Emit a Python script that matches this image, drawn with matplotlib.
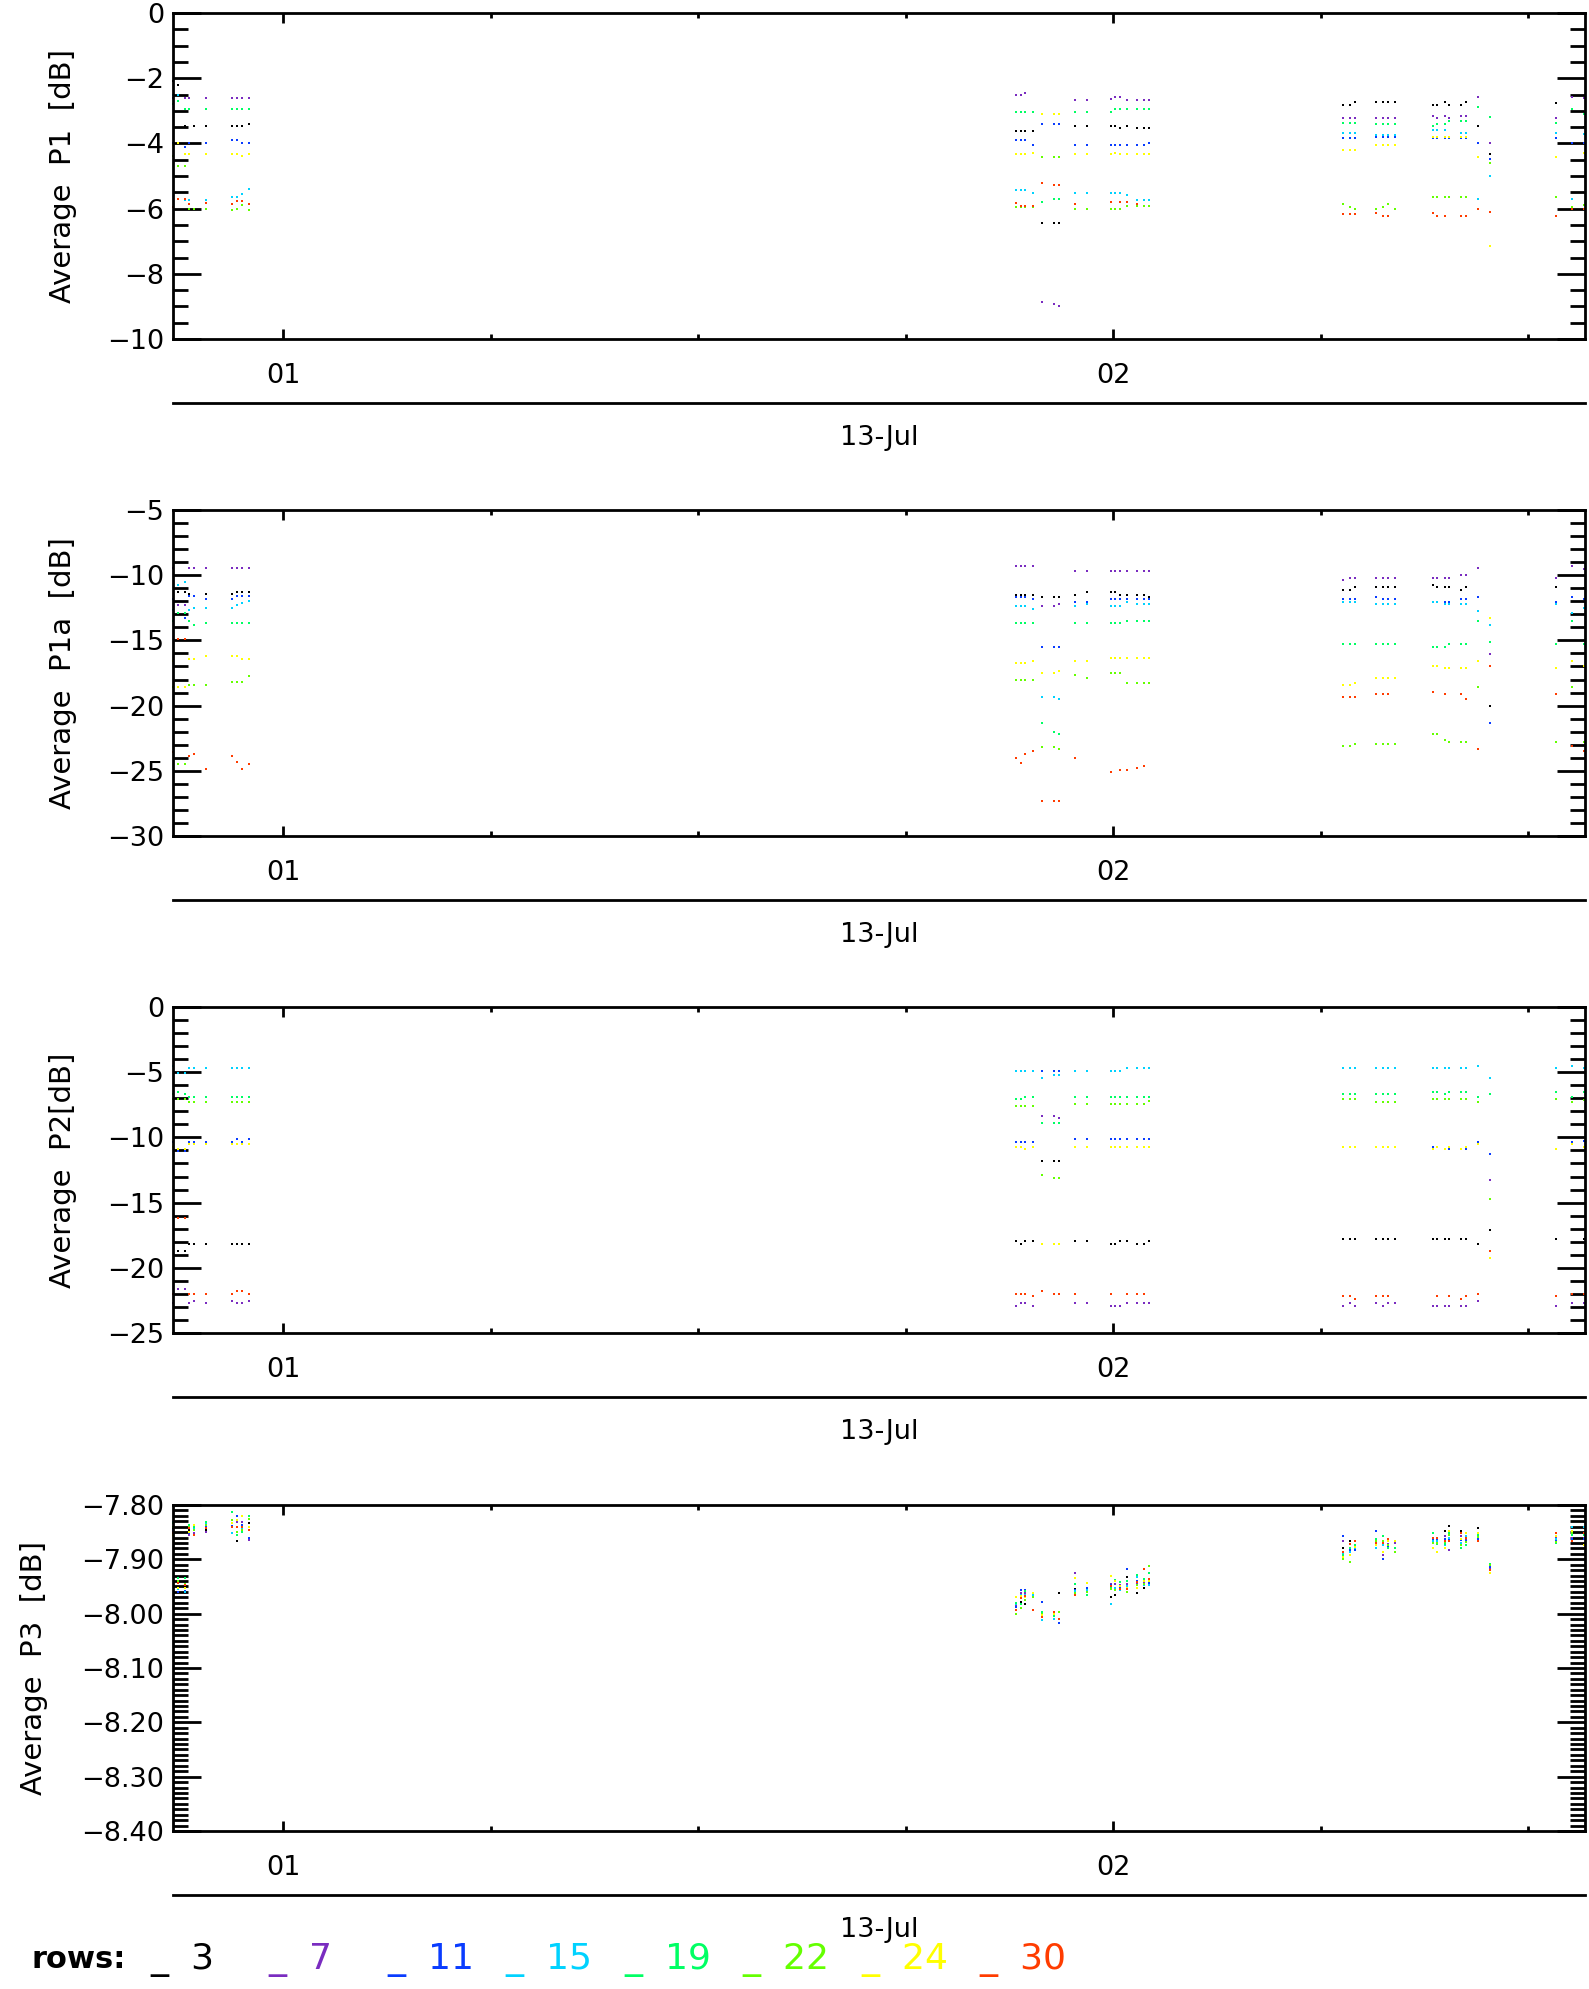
import numpy as np
import matplotlib
matplotlib.use("Agg")
import matplotlib.pyplot as plt
from matplotlib.ticker import MultipleLocator, FixedLocator, FuncFormatter

N = None

# time of each sample, minutes after 00:00 on 13-Jul
T_MIN = [52.03, 52.37, 52.88, 53.22, 53.58, 54.43, 56.29, 56.65, 57.01, 57.51,
         112.97, 113.30, 113.64, 114.17, 114.85, 115.69, 116.05, 117.25, 118.10,
         119.81, 120.15, 120.51, 121.01, 121.69, 122.22, 122.58,
         136.58, 137.08, 137.44, 138.99, 139.50, 139.86, 140.36, 143.08, 143.42,
         143.95, 144.29, 145.13, 145.47, 146.34, 147.20, 152.00, 153.18, 154.05]

ROWS = [3, 7, 11, 15, 19, 22, 24, 30]
ROW_COLORS = ["#000000", "#7a2cc0", "#0a3cff", "#00d2ff", "#00ff64", "#64ff00", "#ffff00", "#ff3c00"]

# ---------------- Average P1 [dB] ----------------
P1_R3 = [-2.10, -2.20, -3.47, N, -3.47, -3.47, -3.47, -3.47, -3.47, -3.40,
         -3.61, -3.61, -3.61, -3.61, -6.45, -6.45, -6.45, -3.47, -3.47, -3.47, -3.47, -3.54, -3.47, -3.54, -3.54, -3.54,
         -2.81, -2.81, -2.72, -2.74, -2.74, -2.74, -2.74, -2.81, -2.81, -2.72, -2.81, -2.81, -2.72, -3.47, -4.34, -2.76, N, -3.50]
P1_R7 = [-2.60, N, -2.60, -2.60, N, -2.60, -2.60, -2.60, -2.60, -2.60,
         -2.52, -2.52, -2.45, N, -8.85, -8.93, -8.98, -2.67, -2.67, -2.65, -2.59, -2.59, -2.67, -2.67, -2.67, -2.67,
         -3.23, -3.23, -3.23, -3.23, -3.23, -3.23, -3.23, -3.16, -3.23, -3.16, -3.23, -3.16, -3.16, -2.59, -3.98, -3.23, -2.59, -2.60]
P1_R11 = [-3.98, -3.98, -4.10, -3.98, N, -3.98, -3.90, -3.90, -3.98, -3.98,
          -3.90, -3.90, -3.90, -4.05, -3.41, -3.41, -3.41, -4.05, -4.05, -4.05, -4.05, -4.05, -4.05, -4.05, -4.05, -3.98,
          -3.83, -3.83, -3.83, -3.80, -3.80, -3.80, -3.80, -3.83, -3.83, -3.83, -3.83, -3.83, -3.83, -3.98, -4.49, -3.83, -3.98, -4.00]
P1_R15 = [-2.50, -2.50, -5.75, -5.75, N, -5.75, -5.65, -5.65, -5.55, -5.40,
          -5.43, -5.43, -5.43, -5.51, N, N, N, -5.51, -5.51, -5.51, -5.51, -5.51, -5.58, -5.73, -5.73, -5.73,
          -3.67, -3.67, -3.67, -3.74, -3.74, -3.74, -3.74, -3.59, -3.59, -3.59, N, -3.67, -3.67, -5.71, -4.99, -3.67, -5.71, -3.70]
P1_R19 = [-2.80, -2.70, -2.96, -2.96, N, -2.96, -2.96, -2.96, -2.96, -2.96,
          -3.03, -3.03, -3.03, -3.03, -5.79, -5.71, -5.71, -3.03, -3.03, -3.03, -2.96, -2.96, -2.96, -2.96, -2.96, -2.96,
          -3.37, -3.37, -3.37, -3.39, -3.39, -3.39, -3.39, -3.47, -3.39, -3.39, -3.31, -3.31, -3.31, -2.88, -3.18, -3.37, -2.96, -3.10]
P1_R22 = [-4.40, -4.70, -4.70, -6.00, -6.00, -6.00, -6.04, -6.00, -5.90, -6.04,
          -5.94, -5.94, -5.94, -5.94, -4.41, -4.41, -4.41, -6.02, -6.02, -6.02, -6.02, -6.02, -5.92, -5.92, -5.92, -5.92,
          -5.86, -5.94, -6.02, -6.02, -5.94, -5.86, -6.02, -5.63, -5.63, -5.63, -5.63, -5.63, -5.63, N, -4.61, -5.63, -5.94, -5.90]
P1_R24 = [-4.05, -4.00, -4.34, -4.34, N, -4.34, -4.34, -4.34, -4.40, -4.34,
          -4.34, -4.34, -4.34, -4.29, -3.11, -3.11, -3.11, -4.34, -4.34, -4.34, -4.29, -4.34, -4.34, -4.34, -4.34, -4.34,
          -4.20, -4.20, -4.20, -4.05, -4.05, -4.05, -4.05, -3.80, -3.80, -3.80, -3.80, -3.80, -3.80, -4.41, -7.16, -4.41, N, -4.30]
P1_R30 = [-5.95, -5.70, -5.70, -5.85, N, -5.82, -5.85, -5.78, -5.78, -5.85,
          -5.82, -5.92, -5.92, -5.92, -5.20, -5.29, -5.29, -5.86, N, -5.79, N, -5.79, -5.79, -5.86, N, N,
          -6.16, -6.16, -6.16, -6.14, -6.22, -6.22, N, -6.14, -6.22, -6.22, N, -6.22, -6.22, -6.01, -6.09, -6.22, -6.00, -6.00]

# ---------------- Average P1a [dB] ----------------
P1A_R3 = [N, -11.26, -11.26, -11.45, N, -11.45, -11.45, -11.26, -11.26, -11.26,
          -11.49, -11.49, -11.49, -11.49, -11.67, -11.67, -11.67, -11.49, -11.28, -11.28, -11.28, -11.49, -11.49, -11.49, -11.49, -11.67,
          -11.10, -11.10, -10.92, -10.92, -10.92, -10.92, -10.92, -10.74, -10.92, -10.92, -10.92, -11.10, -10.92, N, -20.05, -10.92, N, -11.00]
P1A_R7 = [-9.46, -12.30, -12.30, -9.46, -9.46, -9.46, -9.46, -9.46, -9.46, -9.46,
          -9.28, -9.28, -9.28, -9.28, -12.38, -12.38, -12.20, -9.67, -9.67, -9.67, -9.67, -9.67, -9.67, -9.67, -9.67, -9.67,
          -10.39, -10.18, -10.18, -10.18, -10.18, -10.18, -10.18, -10.18, -10.18, -10.18, -10.18, -10.00, -10.00, -9.46, -16.03, -10.18, -9.28, -9.50]
P1A_R11 = [-11.80, N, -13.25, -11.60, -11.60, -11.80, -11.80, -11.60, -11.60, -11.60,
           -11.67, -11.67, -11.67, -11.85, -15.49, -15.49, -15.49, -12.02, -12.02, -11.85, -11.85, -11.85, -11.85, -11.85, -11.85, -11.85,
           -11.85, -11.85, -11.85, -11.67, -11.85, -11.85, -11.85, N, N, -12.02, -12.02, -11.85, -11.85, -11.67, -21.33, -12.02, -11.67, -11.80]
P1A_R15 = [-12.70, -10.75, -10.54, -12.70, -12.55, -12.55, -12.55, -12.30, -12.15, -11.98,
           -12.38, -12.38, -12.38, -12.56, -19.31, -19.31, -19.49, -12.38, -12.20, -12.38, -12.38, -12.38, -12.02, -12.20, -12.20, -12.20,
           -12.02, -12.02, -12.02, -12.20, -12.20, -12.20, -12.20, -12.02, -12.02, -12.20, -12.20, -12.20, -12.20, -12.74, -13.85, -12.20, -12.92, -12.50]
P1A_R19 = [-13.50, -12.90, -12.90, -13.50, -13.84, -13.68, -13.68, -13.68, -13.68, -13.68,
           -13.67, -13.67, -13.67, -13.67, -21.31, -22.03, -22.20, -13.67, -13.67, -13.67, -13.67, -13.67, -13.49, -13.49, -13.49, -13.49,
           -15.31, -15.31, -15.31, -15.31, -15.31, -15.31, -15.31, -15.49, -15.49, -15.49, -15.31, -15.31, -15.31, -13.49, -15.13, -15.31, -13.49, -15.30]
P1A_R22 = [-18.58, -24.50, -24.50, -18.40, -18.40, -18.40, -18.20, -18.20, -18.20, -17.70,
           -18.03, -18.03, -18.03, -18.03, -23.15, -23.15, -23.33, -17.67, -17.85, -17.49, -17.49, -17.49, -18.23, -18.23, -18.23, -18.23,
           -23.12, -23.12, -22.95, -22.95, -22.95, -22.95, -22.95, -22.20, -22.20, -22.60, -22.77, -22.77, -22.77, -18.59, N, -22.77, -18.59, -22.80]
P1A_R24 = [-16.60, -18.60, -18.60, -16.40, -16.40, -16.20, -16.20, -16.20, -16.40, -16.40,
           -16.77, -16.77, -16.77, -16.59, -17.49, -17.49, -17.31, -16.59, -16.59, -16.38, -16.38, -16.38, -16.38, -16.38, -16.38, -16.38,
           -18.41, -18.41, -18.23, -17.85, -17.85, -17.85, -17.85, -16.95, -16.95, -17.13, -17.13, -17.13, -17.13, -16.59, -13.28, -17.13, -16.59, -17.00]
P1A_R30 = [-23.56, -14.92, -14.92, -23.90, -23.70, -24.85, -23.90, -24.30, -24.85, -24.50,
           -24.05, -24.41, -23.69, -23.51, -27.33, -27.33, -27.33, -24.05, N, -25.13, N, -24.95, -24.95, -24.77, -24.60, N,
           -19.31, -19.31, -19.31, -19.13, -19.13, -19.13, N, -18.95, N, -19.13, N, -19.13, -19.49, -23.33, -16.95, -19.13, -23.12, -23.50]

# ---------------- Average P2 [dB] ----------------
P2_R3 = [N, -18.69, -18.69, -18.15, -18.15, -18.15, -18.15, -18.15, -18.15, -18.15,
         -17.97, -18.15, -17.97, -17.97, -11.80, -11.80, -11.80, -17.97, -17.97, -18.15, -18.15, -17.97, -17.97, -18.15, -18.15, -17.97,
         -17.80, -17.80, -17.80, -17.80, -17.80, -17.80, -17.80, -17.80, -17.80, -17.80, -17.80, -17.80, -17.80, -18.15, -17.08, -17.80, N, -17.80]
P2_R7 = [-22.72, -21.62, -21.62, -22.72, -22.54, -22.72, -22.54, -22.72, -22.72, -22.54,
         -22.90, -22.72, -22.72, -22.90, -8.33, -8.33, -8.51, -22.72, -22.72, -22.90, -22.90, -22.90, -22.72, -22.72, -22.72, -22.72,
         -22.90, -22.72, -22.90, -22.72, -22.90, -22.72, -22.72, -22.90, -22.90, -22.90, -22.90, -22.90, -22.90, -22.54, -13.26, -22.90, -22.72, -22.70]
P2_R11 = [-10.33, -11.05, -11.05, -10.33, -10.33, -10.33, -10.33, -10.15, -10.33, -10.15,
          -10.33, -10.33, -10.33, -10.33, -4.87, -4.87, -4.87, -10.15, -10.15, -10.15, -10.15, -10.15, -10.15, -10.15, -10.15, -10.15,
          -10.72, -10.72, -10.72, -10.72, -10.72, -10.72, -10.72, -10.72, N, -10.90, -10.90, N, -10.90, -10.33, -11.26, N, -10.33, -10.30]
P2_R15 = [-4.51, -5.03, -5.03, -4.69, -4.69, -4.69, -4.69, -4.69, -4.69, -4.69,
          -4.87, -4.87, -4.87, -4.87, -5.41, -5.23, -5.23, -4.87, -4.87, -4.87, -4.87, -4.87, -4.69, -4.69, -4.69, -4.69,
          -4.69, -4.69, -4.69, -4.69, -4.69, -4.69, -4.69, -4.69, -4.69, -4.69, -4.69, -4.69, -4.69, -4.51, -5.41, -4.69, -4.51, -4.69]
P2_R19 = [-6.69, -6.51, -6.69, -6.87, -6.87, -6.87, -6.87, -6.87, -6.87, -6.87,
          -7.05, -7.05, -6.87, -6.87, -8.90, -8.90, -8.90, -6.87, -6.87, -6.87, -6.87, -6.87, -6.87, -6.87, -6.87, -6.87,
          -6.69, -6.69, -6.69, -6.69, -6.69, -6.69, -6.69, -6.51, -6.51, -6.69, -6.51, -6.51, -6.51, -6.87, -6.69, -6.51, -6.87, -6.50]
P2_R22 = [-7.08, -7.08, -7.08, -7.26, -7.26, -7.26, -7.26, -7.26, -7.26, -7.26,
          -7.62, -7.62, -7.62, -7.62, -12.90, -13.08, -13.08, -7.44, -7.44, -7.44, -7.44, -7.44, -7.44, -7.44, -7.44, -7.23,
          -7.08, -7.08, -7.08, -7.26, -7.26, -7.26, -7.26, -7.08, -7.08, -7.08, -7.08, -7.08, -7.08, -7.26, -14.72, -7.08, -7.26, -7.10]
P2_R24 = [-10.72, -10.90, -10.90, -10.54, -10.54, -10.54, -10.54, -10.54, -10.54, -10.54,
          -10.72, -10.72, -10.90, -10.72, -18.15, -18.15, -18.15, -10.72, -10.72, -10.72, -10.72, -10.72, -10.72, -10.72, -10.72, -10.72,
          -10.72, -10.72, -10.72, -10.72, -10.72, -10.72, -10.72, -10.90, -10.72, -10.90, -10.72, -10.90, -10.72, -10.51, -19.28, -10.90, -10.51, -10.70]
P2_R30 = [-22.00, -16.18, -16.18, -22.00, -22.00, -22.00, -22.00, -21.80, -21.80, -22.00,
          -22.00, -22.00, -22.00, -22.18, -21.80, -22.00, -22.00, -22.00, N, -22.00, N, N, -22.00, -22.00, -22.00, N,
          -22.18, -22.18, -22.36, -22.18, -22.18, -22.18, N, N, -22.18, N, -22.18, -22.36, -22.18, -22.00, -18.72, -22.18, -22.00, -22.00]

# ---------------- Average P3 [dB] ----------------
P3_R3 = [-7.843, -7.940, -7.950, -7.846, N, -7.846, N, -7.866, N, -7.834,
         N, -7.978, -7.983, N, N, N, -7.962, -7.954, N, -7.970, -7.966, N, -7.932, -7.962, -7.952, N,
         -7.879, -7.866, N, N, N, N, N, N, N, -7.847, -7.839, -7.847, N, -7.843, -7.913, N, -7.862, -7.860]
P3_R7 = [-7.850, -7.961, -7.960, -7.855, -7.852, -7.849, -7.840, -7.831, -7.831, -7.864,
         -7.986, -7.962, -7.962, -7.964, -8.006, -8.005, N, -7.926, N, -7.945, -7.945, -7.948, -7.945, -7.945, -7.943, -7.940,
         -7.866, -7.872, N, -7.868, -7.892, -7.872, -7.870, -7.864, -7.864, -7.857, -7.883, -7.857, -7.862, -7.860, -7.917, -7.860, -7.860, -7.860]
P3_R11 = [-7.846, -7.961, -7.958, -7.852, -7.846, -7.840, -7.838, -7.821, -7.837, -7.861,
          -7.988, -7.957, -7.957, -7.968, -7.979, N, -8.018, -7.956, -7.952, -7.948, -7.940, -7.951, -7.917, -7.940, -7.946, -7.943,
          -7.857, -7.883, -7.883, -7.847, -7.900, -7.876, N, -7.862, -7.862, -7.862, -7.862, -7.864, -7.866, -7.862, -7.915, -7.866, -7.862, -7.862]
P3_R15 = [-7.831, -7.955, -7.961, -7.840, -7.843, -7.834, -7.852, -7.840, -7.843, -7.846,
          -7.983, -7.965, -7.966, -7.966, -8.012, -8.009, N, -7.958, -7.957, -7.983, -7.952, -7.957, -7.950, -7.932, -7.948, -7.948,
          -7.890, -7.886, -7.879, -7.879, -7.874, -7.879, N, -7.866, -7.866, -7.874, -7.860, -7.870, -7.857, -7.857, -7.919, -7.862, -7.840, -7.840]
P3_R19 = [-7.834, -7.935, -7.935, -7.837, -7.840, -7.831, -7.812, -7.855, -7.849, -7.821,
          -7.980, -7.982, -7.958, -7.962, -7.997, -8.005, -7.997, -7.945, -7.966, -7.951, -7.938, -7.941, -7.940, -7.929, -7.936, -7.926,
          -7.892, -7.880, -7.874, -7.862, -7.857, -7.879, -7.879, -7.852, -7.871, -7.871, -7.851, -7.879, -7.874, -7.855, -7.909, -7.870, -7.855, -7.855]
P3_R22 = [-7.840, -7.940, -7.945, -7.840, -7.846, -7.837, -7.828, -7.849, -7.846, -7.825,
          -8.001, -7.990, -7.975, -7.970, -8.000, -7.998, -7.997, -7.962, -7.960, -7.955, -7.957, -7.955, -7.960, -7.948, -7.945, -7.913,
          -7.900, -7.905, -7.877, -7.866, -7.866, -7.874, -7.887, -7.870, -7.870, -7.868, -7.855, -7.874, -7.869, -7.858, -7.911, -7.868, -7.852, -7.852]
P3_R24 = [-7.855, -7.952, -7.952, -7.849, -7.837, -7.843, -7.834, -7.828, -7.821, -7.840,
          -7.970, -7.968, -7.970, -7.962, -8.002, -8.001, N, -7.935, -7.943, -7.931, -7.940, -7.950, -7.952, -7.952, -7.940, -7.940,
          -7.895, -7.892, -7.878, -7.874, -7.887, -7.866, -7.866, -7.879, -7.887, -7.879, -7.847, -7.862, -7.852, -7.852, -7.926, -7.857, -7.847, -7.874]
P3_R30 = [-7.852, -7.944, -7.948, -7.843, -7.855, -7.843, -7.840, -7.840, -7.840, -7.846,
          -7.993, -7.972, -7.968, -7.993, -8.007, -7.997, -8.009, -7.966, N, -7.950, N, -7.954, -7.954, -7.942, -7.917, -7.937,
          -7.887, -7.872, -7.866, -7.870, -7.870, -7.862, N, -7.860, -7.860, -7.866, -7.866, -7.851, -7.860, -7.866, -7.920, -7.852, -7.866, -7.852]

PANELS = [
    ("Average  P1  [dB]", (-10, 0), 2, 0.5, "%d",
     [P1_R3, P1_R7, P1_R11, P1_R15, P1_R19, P1_R22, P1_R24, P1_R30]),
    ("Average  P1a  [dB]", (-30, -5), 5, 1, "%d",
     [P1A_R3, P1A_R7, P1A_R11, P1A_R15, P1A_R19, P1A_R22, P1A_R24, P1A_R30]),
    ("Average  P2[dB]", (-25, 0), 5, 1, "%d",
     [P2_R3, P2_R7, P2_R11, P2_R15, P2_R19, P2_R22, P2_R24, P2_R30]),
    ("Average  P3  [dB]", (-8.40, -7.80), 0.1, 0.01, "%.2f",
     [P3_R3, P3_R7, P3_R11, P3_R15, P3_R19, P3_R22, P3_R24, P3_R30]),
]

X_RANGE = (52.0, 154.1)
HOUR_TICKS = [60, 120]
HOUR_LABELS = ["01", "02"]
QUARTER_TICKS = [75, 90, 105, 135, 150]
DATE_LABEL = "13-Jul"

W, H = 1589, 1989
fig = plt.figure(figsize=(W / 100, H / 100), dpi=100)
plt.rcParams["font.family"] = ["DejaVu Sans"]

LEFT, RIGHT = 172.5, 1585
TOPS = [13, 510, 1007, 1505]
PH = 326
TS = 19.5
LABEL_RIGHT = [77, 77, 77, 48]   # pixel x of the right side of each rotated y label

for i, (ylab, ylim, maj, mnr, fmt, series) in enumerate(PANELS):
    top = TOPS[i]
    ax = fig.add_axes([LEFT / W, 1 - (top + PH) / H, (RIGHT - LEFT) / W, PH / H])
    t = np.array(T_MIN, dtype=float)
    for vals, col in zip(series, ROW_COLORS):
        v = np.array(vals, dtype=float)
        ax.plot(t, v, linestyle="none", marker="s", ms=2.0, mew=0, color=col, clip_on=False)
    ax.set_xlim(*X_RANGE)
    ax.set_ylim(*ylim)
    ax.yaxis.set_major_locator(MultipleLocator(maj))
    ax.yaxis.set_minor_locator(MultipleLocator(mnr))
    ax.yaxis.set_major_formatter(FuncFormatter(
        lambda v, p, f=fmt: (f % (round(v, 2) if "." in f else int(round(v)))).replace("-", "\u2212")))
    ax.xaxis.set_major_locator(FixedLocator(HOUR_TICKS))
    ax.xaxis.set_minor_locator(FixedLocator(QUARTER_TICKS))
    ax.set_xticklabels(HOUR_LABELS)
    ax.tick_params(axis="y", which="major", direction="in", length=20, width=2,
                   left=True, right=True, labelsize=TS, pad=6)
    ax.tick_params(axis="y", which="minor", direction="in", length=11, width=2,
                   left=True, right=True)
    ax.tick_params(axis="x", which="major", direction="in", length=7, width=2,
                   top=True, bottom=True, labelsize=TS, pad=17)
    ax.tick_params(axis="x", which="minor", direction="in", length=3.5, width=2,
                   top=True, bottom=True)
    for s in ax.spines.values():
        s.set_linewidth(2)
    ax.set_ylabel(ylab, fontsize=21)
    ax.yaxis.set_label_coords((LABEL_RIGHT[i] - LEFT) / (RIGHT - LEFT), 0.5)

    sec = ax.secondary_xaxis(-64 / PH)
    sec.set_xticks([(X_RANGE[0] + X_RANGE[1]) / 2])
    sec.set_xticklabels([DATE_LABEL])
    sec.tick_params(length=0, pad=16, labelsize=TS)
    sec.spines["bottom"].set_linewidth(2)

# legend row
fig.text(32 / W, 1 - 1960 / H, "rows:", fontsize=22, fontweight="bold", ha="left", va="center")
for k, (r, col) in enumerate(zip(ROWS, ROW_COLORS)):
    x0 = 150 + k * 118.5
    fig.text(x0 / W, 1 - 1960 / H, "_  " + str(r), fontsize=26, color=col, ha="left", va="center")

fig.savefig("out.png", dpi=100)
